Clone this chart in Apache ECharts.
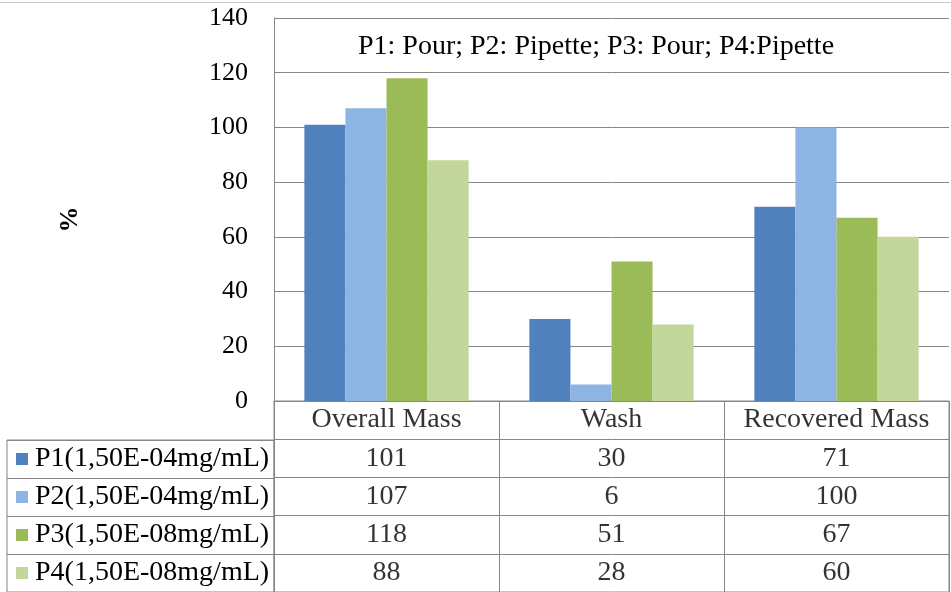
<!DOCTYPE html>
<html>
<head>
<meta charset="utf-8">
<script src="https://cdn.jsdelivr.net/npm/echarts@6/dist/echarts.min.js"></script>
<style>
html,body{margin:0;padding:0;background:#fff;}
#c{width:951px;height:592px;}
</style>
</head>
<body>
<div id="c"></div>
<script>
const categories = ['Overall Mass', 'Wash', 'Recovered Mass'];
const seriesNames = ['P1(1,50E-04mg/mL)', 'P2(1,50E-04mg/mL)', 'P3(1,50E-08mg/mL)', 'P4(1,50E-08mg/mL)'];
const p1Values = [101, 30, 71];
const p2Values = [107, 6, 100];
const p3Values = [118, 51, 67];
const p4Values = [88, 28, 60];
const seriesColors = ['#4F81BD', '#8EB4E3', '#9BBB59', '#C3D69B'];
const yMin = 0, yMax = 140, yStep = 20;
const yAxisName = '%';
const titleText = 'P1: Pour; P2: Pipette; P3: Pour; P4:Pipette';

const allValues = [p1Values, p2Values, p3Values, p4Values];
const FONT = "'Liberation Serif', 'Times New Roman', serif";
const GRIDC = '#868686';
const FS = 28;

// Table rows (row 0: category names, rows 1..4: series values)
const tableRows = ['', ...seriesNames];
const tableCells = [];
categories.forEach((c, ci) => {
  tableCells.push([ci, 0, c]);
  allValues.forEach((vals, si) => tableCells.push([ci, si + 1, String(vals[ci])]));
});

const rich = { t: { fontSize: FS, fontFamily: FONT, color: '#000' } };
seriesColors.forEach((col, i) => {
  rich['s' + i] = { width: 12, height: 12, backgroundColor: col };
});

const chart = echarts.init(document.getElementById('c'), null, { renderer: 'canvas' });
chart.setOption({
  animation: false,
  backgroundColor: '#fff',
  title: {
    text: titleText,
    left: 358, top: 33, padding: 0,
    textStyle: { fontFamily: FONT, fontSize: FS, fontWeight: 'normal', color: '#000' }
  },
  graphic: [{
    type: 'line', shape: { x1: 0, y1: 2.5, x2: 951, y2: 2.5 },
    style: { stroke: '#C8C8C8', lineWidth: 1 }
  }],
  grid: [
    { left: 274, right: 2, top: 18, height: 383 },
    { left: 274, right: 2, top: 401, height: 193, show: true, borderColor: GRIDC, borderWidth: 1 },
    { left: 7, width: 267, top: 440, height: 154, show: true, borderColor: GRIDC, borderWidth: 1 }
  ],
  xAxis: [
    { type: 'category', gridIndex: 0, data: categories,
      axisLine: { show: true, lineStyle: { color: GRIDC } }, axisTick: { show: false },
      axisLabel: { show: false } },
    { type: 'category', gridIndex: 1, data: categories,
      axisLine: { show: false }, axisTick: { show: false }, axisLabel: { show: false },
      splitLine: { show: true, lineStyle: { color: GRIDC, width: 1 } } },
    { type: 'value', gridIndex: 2, min: 0, max: 1, show: false }
  ],
  yAxis: [
    { type: 'value', gridIndex: 0, min: yMin, max: yMax, interval: yStep,
      name: yAxisName, nameLocation: 'middle', nameRotate: 90, nameGap: 191,
      nameTextStyle: { fontFamily: FONT, fontSize: 26, fontWeight: 'bold', color: '#000',
        padding: [0, 20, 0, 0] },
      axisLine: { show: true, lineStyle: { color: GRIDC } }, axisTick: { show: false },
      axisLabel: { fontFamily: FONT, fontSize: 26, color: '#000', margin: 26 },
      splitLine: { show: true, lineStyle: { color: GRIDC, width: 1 } } },
    { type: 'category', gridIndex: 1, data: tableRows, inverse: true,
      axisLine: { show: false }, axisTick: { show: false }, axisLabel: { show: false },
      splitLine: { show: true, lineStyle: { color: GRIDC, width: 1 } } },
    { type: 'category', gridIndex: 2, data: seriesNames, inverse: true,
      axisLine: { show: false }, axisTick: { show: false },
      splitLine: { show: true, lineStyle: { color: GRIDC, width: 1 } },
      axisLabel: { inside: true, margin: 9,
        formatter: (v, i) => '{s' + i + '|}{t| ' + v + '}', rich: rich } }
  ],
  series: [
    ...seriesNames.map((n, i) => ({
      type: 'bar', name: n, xAxisIndex: 0, yAxisIndex: 0,
      data: allValues[i], barGap: '0%', barCategoryGap: '27%',
      itemStyle: { color: seriesColors[i] }
    })),
    { type: 'scatter', xAxisIndex: 1, yAxisIndex: 1, data: tableCells,
      symbolSize: 1, itemStyle: { color: 'rgba(0,0,0,0)' }, silent: true,
      label: { show: true, position: 'inside', formatter: p => p.value[2],
        fontFamily: FONT, fontSize: FS, color: '#000' } }
  ]
});
</script>
</body>
</html>
